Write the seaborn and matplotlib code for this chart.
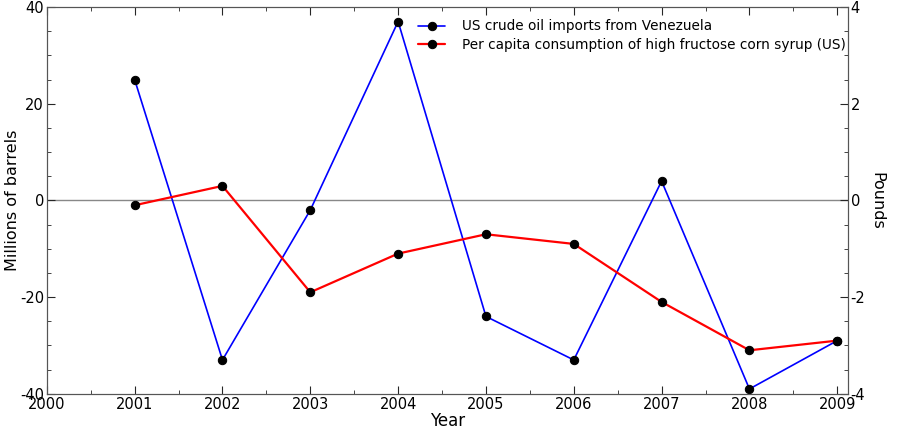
import numpy as np
import pandas as pd
import matplotlib
matplotlib.use("Agg")
import matplotlib.pyplot as plt
import seaborn as sns
from matplotlib.ticker import MultipleLocator

years = [2001, 2002, 2003, 2004, 2005, 2006, 2007, 2008, 2009]
oil_imports = [25, -33, -2, 37, -24, -33, 4, -39, -29]
hfcs = [-0.1, 0.3, -1.9, -1.1, -0.7, -0.9, -2.1, -3.1, -2.9]

oil_label = "US crude oil imports from Venezuela"
hfcs_label = "Per capita consumption of high fructose corn syrup (US)"

df = pd.DataFrame({"Year": years, "oil": oil_imports, "hfcs": hfcs})

sns.set_style("ticks")
plt.rcParams["font.family"] = ["DejaVu Sans"]
plt.rcParams["xtick.direction"] = "in"
plt.rcParams["ytick.direction"] = "in"
plt.rcParams["axes.unicode_minus"] = False
plt.rcParams["text.color"] = "black"
plt.rcParams["axes.labelcolor"] = "black"
plt.rcParams["xtick.labelcolor"] = "black"
plt.rcParams["ytick.labelcolor"] = "black"

fig = plt.figure(figsize=(9, 4.4), dpi=100)
ax = fig.add_axes([0.052, 0.105, 0.89, 0.879])
ax2 = ax.twinx()

ax.axhline(0, color="#888888", lw=1, zorder=0)

sns.lineplot(data=df, x="Year", y="oil", ax=ax, color="blue", lw=1.2,
             marker="o", markersize=6, markerfacecolor="black",
             markeredgecolor="black", label=oil_label, legend=False)
sns.lineplot(data=df, x="Year", y="hfcs", ax=ax2, color="red", lw=1.6,
             marker="o", markersize=6, markerfacecolor="black",
             markeredgecolor="black", label=hfcs_label, legend=False)

ax.set_xlim(2000, 2009.12)
ax.set_ylim(-40, 40)
ax2.set_ylim(-4, 4)

ax.xaxis.set_major_locator(MultipleLocator(1))
ax.xaxis.set_minor_locator(MultipleLocator(0.5))
ax.yaxis.set_major_locator(MultipleLocator(20))
ax.yaxis.set_minor_locator(MultipleLocator(5))
ax2.yaxis.set_major_locator(MultipleLocator(2))
ax2.yaxis.set_minor_locator(MultipleLocator(0.5))
ax.xaxis.set_major_formatter(plt.FuncFormatter(lambda v, p: f"{int(v)}"))

ax.tick_params(axis="both", which="major", length=6, labelsize=10.5, top=True, pad=2)
ax.tick_params(axis="both", which="minor", length=3, top=True)
ax2.tick_params(axis="y", which="major", length=6, labelsize=10.5, pad=2)
ax2.tick_params(axis="y", which="minor", length=3)

for a in (ax, ax2):
    for s in a.spines.values():
        s.set_visible(True)
        s.set_color("#555555")

ax.set_xlabel("Year", fontsize=12, labelpad=0)
ax.set_ylabel("Millions of barrels", fontsize=11.5)
ax.yaxis.set_label_coords(-0.033, 0.5)
ax2.set_ylabel("Pounds", fontsize=11.5, rotation=270, labelpad=14)

h1, l1 = ax.get_legend_handles_labels()
h2, l2 = ax2.get_legend_handles_labels()
ax.legend(h1 + h2, l1 + l2, loc="upper left", bbox_to_anchor=(0.448, 1.0),
          frameon=False, fontsize=9.8, handlelength=2.0, handletextpad=1.25,
          labelspacing=0.35, numpoints=1)

fig.savefig("out.png", dpi=100, facecolor="white")
